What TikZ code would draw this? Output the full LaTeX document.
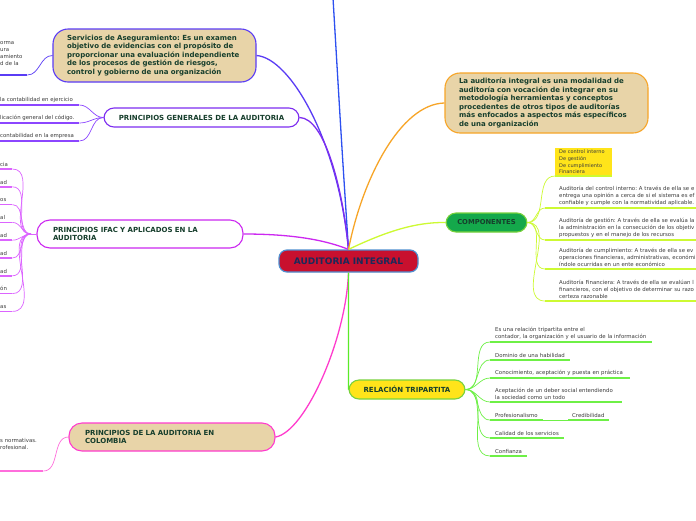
\documentclass[tikz,border=0pt]{standalone}
\usepackage{fontspec}
\setmainfont{DejaVu Sans}
\usepackage{tikz}
\usetikzlibrary{positioning}
\frenchspacing

\definecolor{rootred}{RGB}{200,16,46}
\definecolor{rootedge}{RGB}{79,143,208}
\definecolor{rootink}{RGB}{27,42,90}
\definecolor{topicink}{RGB}{22,62,44}
\definecolor{leafink}{RGB}{60,60,60}
\definecolor{topictan}{RGB}{232,212,168}
\definecolor{topblue}{RGB}{45,80,240}
\definecolor{servblue}{RGB}{90,60,245}
\definecolor{genviolet}{RGB}{125,45,240}
\definecolor{genleaf}{RGB}{140,70,255}
\definecolor{ifacmag}{RGB}{204,40,240}
\definecolor{ifacleaf}{RGB}{220,100,255}
\definecolor{colpink}{RGB}{255,60,205}
\definecolor{colleaf}{RGB}{255,110,220}
\definecolor{integorange}{RGB}{247,165,40}
\definecolor{compline}{RGB}{205,250,50}
\definecolor{compfill}{RGB}{20,168,75}
\definecolor{compedge}{RGB}{120,210,60}
\definecolor{yellowbox}{RGB}{255,228,26}
\definecolor{relline}{RGB}{90,235,40}
\definecolor{relleaf}{RGB}{110,240,70}

\begin{document}
\begin{tikzpicture}[
    x=1pt, y=-1pt,
    root/.style={rounded corners=8pt, fill=rootred, draw=rootedge, line width=1.2pt, text=rootink,
                 font=\fontsize{9}{11}\selectfont\bfseries, minimum width=139pt, minimum height=22pt},
    topic/.style={rounded corners=10pt, line width=1.1pt, text=topicink,
                  font=\fontsize{7}{8.5}\selectfont\bfseries, align=left, inner ysep=2pt},
    leaf/.style={text=leafink, font=\fontsize{5.4}{7}\selectfont, align=left,
                 inner xsep=0pt, inner ysep=2.5pt, anchor=south west},
    branch/.style={line width=1.3pt},
    twig/.style={line width=0.7pt},
    under/.style={line width=1.6pt}
  ]
  \useasboundingbox[fill=white] (0,0) rectangle (696,520);
  \clip (0,0) rectangle (696,520);

  % Central topic
  \node[root] (root) at (348.5,261) {AUDITORIA INTEGRAL};

  % Left side topics
  \node[topic, fill=topictan, draw=servblue, text width=175pt, inner xsep=14pt, minimum height=53pt, rounded corners=15pt] (serv) at (154.5,55.5)
    {Servicios de Aseguramiento: Es un examen\\objetivo de evidencias con el propósito de\\proporcionar una evaluación independiente\\de los procesos de gestión de riesgos,\\control y gobierno de una organización};
  \node[topic, fill=white, draw=genviolet, align=center, minimum width=195pt, minimum height=19pt] (gen) at (201.5,117.5)
    {PRINCIPIOS GENERALES DE LA AUDITORIA};
  \node[topic, fill=white, draw=ifacmag, text width=174pt, inner xsep=16pt, minimum height=28pt, rounded corners=13pt] (ifac) at (140,234)
    {PRINCIPIOS IFAC Y APLICADOS EN LA\\AUDITORIA};
  \node[topic, fill=topictan, draw=colpink, text width=174pt, inner xsep=16pt, minimum height=28pt, rounded corners=13pt] (col) at (172,437)
    {PRINCIPIOS DE LA AUDITORIA EN\\COLOMBIA};

  % Right side topics
  \node[topic, fill=topictan, draw=integorange, text width=175pt, inner xsep=14pt, minimum height=60pt, rounded corners=15pt] (integ) at (546.5,103)
    {La auditoría integral es una modalidad de\\auditoría con vocación de integrar en su\\metodología herramientas y conceptos\\procedentes de otros tipos de auditorías\\más enfocados a aspectos más específicos\\de una organización};
  \node[topic, fill=compfill, draw=compedge, align=center, minimum width=81pt, minimum height=19pt,
        font=\fontsize{6.8}{8}\selectfont\bfseries] (comp) at (486.5,222.5) {COMPONENTES};
  \node[topic, fill=yellowbox, draw=compedge, align=center, minimum width=116pt, minimum height=19pt] (rel) at (407,389.5)
    {RELACIÓN TRIPARTITA};

  % Branches from the central topic
  \coordinate (up) at (333,-2);
  \draw[branch, topblue] (root.north) .. controls (342,150) .. (up);
  \draw[branch, servblue] (serv.east) .. controls (290,58) and (338,140) .. (root.north);
  \draw[branch, genviolet] (gen.east) .. controls (325,118) and (343,190) .. (root.north);
  \draw[branch, ifacmag] (ifac.east) .. controls (300,234) and (330,242) .. (root.north);
  \draw[branch, colpink] (col.east) .. controls (305,432) and (346,340) .. (root.south);
  \draw[branch, integorange] (root.north) .. controls (362,180) and (400,104) .. (integ.west);
  \draw[branch, compline] (root.north) .. controls (385,232) and (415,222) .. (comp.west);
  \draw[branch, relline] (root.south) -- (rel.west);

  % Servicios leaf
  \node[leaf, text width=27pt, inner ysep=9pt] (s0) at (0,75) {orma\\ura\\amiento\\d de la};
  \draw[twig, servblue] (serv.west) to[out=180,in=0] (s0.south east);
  \draw[under, servblue] (s0.south west) -- (s0.south east);

  % Principios generales leaves
  \foreach \i/\y/\txt in {1/105/la contabilidad en ejercicio, 2/123/licación general del código., 3/141/contabilidad en la empresa}
    \node[leaf, text width=79pt] (g\i) at (0,\y) {\txt};
  \foreach \i in {1,2,3} {
    \draw[twig, genleaf] (gen.west) to[out=180,in=0] (g\i.south east);
    \draw[under, genleaf] (g\i.south west) -- (g\i.south east);
  }

  % IFAC leaves
  \coordinate (ifacj) at (31,234);
  \foreach \i/\txt in {1/cia, 2/ad, 3/os, 4/al, 5/ad, 6/ad, 7/ad, 8/ón, 9/as}
    \node[leaf, text width=12pt] (f\i) at (0,{151.2+17.8*\i}) {\txt};
  \draw[twig, ifacleaf] (ifac.west) -- (ifacj);
  \foreach \i in {1,...,9} {
    \draw[twig, ifacleaf] (ifacj) to[out=180,in=0] (f\i.south east);
    \draw[under, ifacleaf] (f\i.south west) -- (f\i.south east);
  }

  % Colombia leaf
  \node[leaf, text width=43pt, inner ysep=21pt] (c1) at (0,471) {s normativas.\\rofesional.};
  \draw[twig, colleaf] (col.west) to[out=180,in=0] (c1.south east);
  \draw[under, colleaf] (c1.south west) -- (c1.south east);

  % Componentes leaves
  \node[leaf, fill=yellowbox, text width=49pt, inner xsep=4pt, inner ysep=2pt, font=\fontsize{5}{6.6}\selectfont] (k0) at (555,176)
    {De control interno\\De gestión\\De cumplimiento\\Financiera};
  \node[leaf, text width=200pt, inner xsep=14pt] (k1) at (545,208)
    {Auditoría del control interno: A través de ella se e\\entrega una opinión a cerca de si el sistema es ef\\confiable y cumple con la normatividad aplicable.};
  \node[leaf, text width=200pt, inner xsep=14pt] (k2) at (545,240)
    {Auditoría de gestión: A través de ella se evalúa la\\la administración en la consecución de los objetiv\\propuestos y en el manejo de los recursos};
  \node[leaf, text width=200pt, inner xsep=14pt] (k3) at (545,269)
    {Auditoría de cumplimiento: A través de ella se ev\\operaciones financieras, administrativas, económi\\índole ocurridas en un ente económico};
  \node[leaf, text width=200pt, inner xsep=14pt] (k4) at (545,301)
    {Auditoría Financiera: A través de ella se evalúan l\\financieros, con el objetivo de determinar su razo\\certeza razonable};
  \foreach \n in {k0,k1,k2,k3,k4} {
    \draw[twig, compline] (comp.east) to[out=0,in=180] (\n.south west);
    \draw[under, compline] (\n.south west) -- (\n.south east);
  }

  % Relacion tripartita leaves
  \node[leaf, text width=152pt, inner xsep=5pt] (r1) at (490,342) {Es una relación tripartita entre el\\contador, la organización y el usuario de la información};
  \node[leaf, text width=70pt, inner xsep=5pt] (r2) at (490,360) {Dominio de una habilidad};
  \node[leaf, text width=130pt, inner xsep=5pt] (r3) at (490,378) {Conocimiento, aceptación y puesta en práctica};
  \node[leaf, text width=122pt, inner xsep=5pt] (r4) at (490,402) {Aceptación de un deber social entendiendo\\la sociedad como un todo};
  \node[leaf, text width=43pt, inner xsep=5pt] (r5) at (490,420) {Profesionalismo};
  \node[leaf, text width=64pt, inner xsep=5pt] (r6) at (490,438) {Calidad de los servicios};
  \node[leaf, text width=27pt, inner xsep=5pt] (r7) at (490,456) {Confianza};
  \node[leaf, text width=33pt, inner xsep=4pt] (cred) at (568,420) {Credibilidad};
  \foreach \i in {1,...,7} {
    \draw[twig, relleaf] (rel.east) to[out=0,in=180] (r\i.south west);
    \draw[under, relleaf] (r\i.south west) -- (r\i.south east);
  }
  \draw[twig, relleaf] (r5.south east) -- (cred.south west);
  \draw[under, relleaf] (cred.south west) -- (cred.south east);
\end{tikzpicture}
\end{document}
